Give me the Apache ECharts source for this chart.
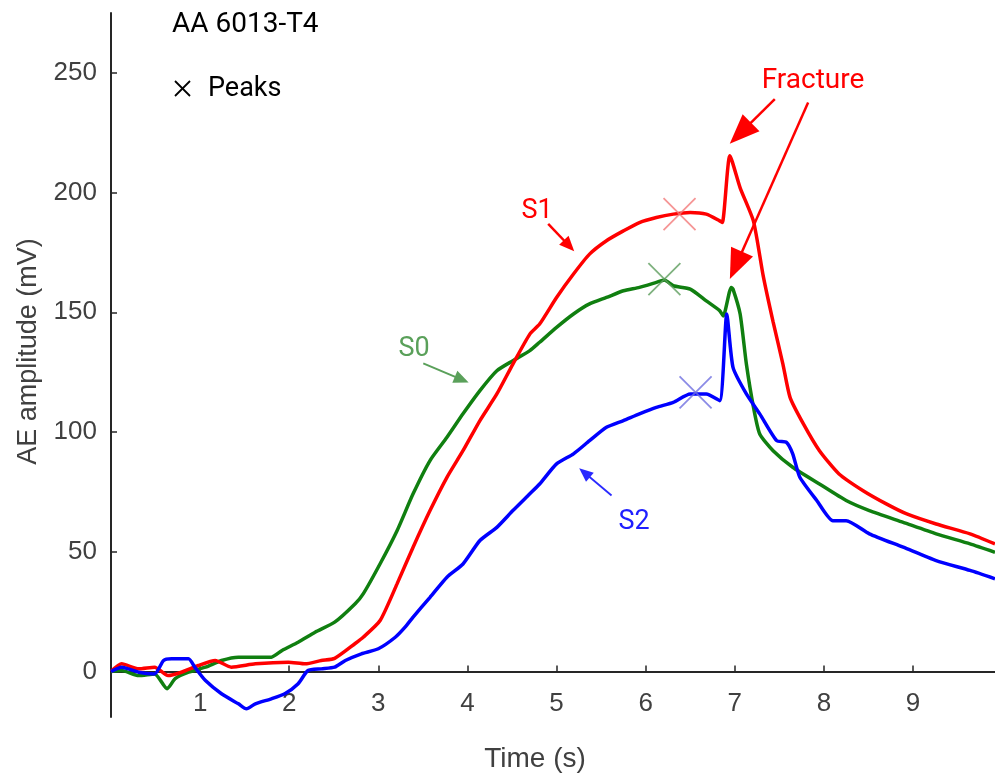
<!DOCTYPE html>
<html><head><meta charset="utf-8">
<script src="https://cdn.jsdelivr.net/npm/echarts@6/dist/echarts.min.js"></script>
<style>html,body{margin:0;padding:0;background:#fff}#c{width:995px;height:778px}</style>
</head><body><div id="c"></div>
<script>
// S1 (red)
const s1Time = [0,0.12,0.31,0.49,0.64,0.79,0.98,1.17,1.35,1.62,1.99,2.18,2.36,2.51,2.74,2.83,3.02,3.21,3.39,3.58,3.77,3.95,4.14,4.33,4.51,4.70,4.81,5.0,5.19,5.37,5.56,5.75,5.93,6.12,6.31,6.50,6.68,6.83,6.86,6.945,7.06,7.21,7.32,7.43,7.54,7.62,7.77,7.95,8.17,8.44,8.70,8.93,9.26,9.64,9.92];
const s1Vals = [0,3.2,1.1,1.8,-1.7,-0.3,2.5,4.6,1.8,3.2,3.9,3.2,4.6,5.5,11.7,14.3,21.3,36.6,51.9,67.2,81.1,92.2,104.8,115.9,128.4,140.9,145.1,156.2,166,174.3,179.9,184,187.5,189.6,191,191.7,191,188.2,187.5,215.4,202,188,165,146,128.4,114.5,103.4,92.2,82.5,75.5,70,65.8,61.6,57.5,53.3];
// S0 (green)
const s0Time = [0,0.12,0.31,0.49,0.63,0.72,0.87,1.06,1.24,1.43,1.62,1.80,1.92,2.10,2.29,2.51,2.74,2.83,3.02,3.21,3.39,3.58,3.77,3.95,4.14,4.33,4.51,4.70,4.81,5.0,5.19,5.37,5.56,5.75,5.93,6.12,6.21,6.31,6.50,6.68,6.83,6.87,6.96,6.98,7.06,7.13,7.21,7.28,7.43,7.65,7.95,8.25,8.51,8.89,9.26,9.64,9.92];
const s0Vals = [0,0.4,-1.7,-1,-7.2,-3,-0.3,1.8,4.6,6,6,6,8.8,12.2,16.4,20.6,28.3,32.4,45,58.8,74.2,88.1,97.8,107.6,117.3,125.6,129.8,134,137.5,143.7,149.3,153.5,156.2,159,160.4,162.5,163.5,161.1,159.7,154.8,150.7,148.5,160.4,159.7,149.3,128.4,110.3,99.2,92.2,85.3,78.3,71.4,67.2,62.3,57.5,53.3,49.8];
// S2 (blue)
const s2Time = [0,0.12,0.31,0.49,0.59,0.68,0.87,0.94,1.06,1.24,1.43,1.52,1.62,1.80,1.95,2.10,2.21,2.36,2.51,2.63,2.81,3.0,3.19,3.30,3.39,3.58,3.77,3.95,4.14,4.33,4.51,4.70,4.81,5.0,5.19,5.37,5.56,5.75,5.93,6.12,6.31,6.50,6.68,6.83,6.91,6.98,7.13,7.28,7.47,7.58,7.65,7.73,7.92,8.10,8.25,8.51,8.89,9.26,9.64,9.92];
const s2Vals = [0,1.8,-0.3,-1,4.6,5.3,5.3,1.8,-3.8,-9.3,-13.5,-15.6,-13.5,-11.4,-9.3,-5.1,0.4,1.1,1.8,4.6,7.4,9.5,14.3,18.5,22.7,31,39.4,44.9,54.7,60.2,67.2,74.2,78.3,86.7,90.9,96.4,102,104.8,107.6,110.3,112.4,115.9,115.9,113.1,149.3,127,115.9,107.6,96.4,95.7,90.9,81.1,71.4,63,63,57.5,51.9,46.3,42.2,38.7];
// Peaks
const peakTime = [6.38, 6.21, 6.56];
const peakVals = [191, 163.9, 116.6];
const peakColors = ['#f27a7a', '#5e9e5e', '#6e6ee0'];
// Ticks
const xTicks = [1,2,3,4,5,6,7,8,9];
const yTicks = [0,50,100,150,200,250];

const zip = (t, v) => t.map((x, i) => [x, v[i]]);
const RED = '#ff0000', GREEN = '#107f10', BLUE = '#0000ff';
const AXC = '#262626', LBC = '#404040';
const AXF = '"Liberation Sans", Arial, sans-serif';
const ANF = 'Roboto, "Noto Sans", sans-serif';
const Y_MIN = -19, Y_MAX = 275;
const GRID_TOP = 13, GRID_BOTTOM = 61, H = 778;
// place the x axis line at y = 0 (shift from the grid bottom)
const plotH = H - GRID_TOP - GRID_BOTTOM;
const zeroShift = -plotH * (0 - Y_MIN) / (Y_MAX - Y_MIN);

const chart = echarts.init(document.getElementById('c'), null, {renderer: 'canvas'});

function arrow(from, to, size) {
  return [{coord: from, symbol: 'none'}, {coord: to, symbol: 'triangle', symbolSize: size}];
}

const option = {
  animation: false,
  backgroundColor: '#fff',
  grid: {left: 111, right: 0, top: GRID_TOP, bottom: GRID_BOTTOM, containLabel: false, outerBoundsMode: 'none'},
  xAxis: {
    type: 'value', min: 0, max: 9.92, position: 'bottom', offset: zeroShift,
    axisLine: {show: true, onZero: false, lineStyle: {color: AXC, width: 2}},
    axisTick: {show: true, inside: true, length: 6, customValues: xTicks, lineStyle: {color: AXC, width: 1.5}},
    axisLabel: {customValues: xTicks, fontSize: 26, color: LBC, fontFamily: AXF, margin: 19},
    splitLine: {show: false},
    name: 'Time (s)', nameLocation: 'middle', nameGap: 74,
    nameTextStyle: {fontSize: 28, color: LBC, fontFamily: AXF, padding: [0, 36, 0, 0]}
  },
  yAxis: {
    type: 'value', min: Y_MIN, max: Y_MAX,
    axisLine: {show: true, onZero: false, lineStyle: {color: AXC, width: 2}},
    axisTick: {show: true, inside: true, length: 6, customValues: yTicks, lineStyle: {color: AXC, width: 1.5}},
    axisLabel: {customValues: yTicks, fontSize: 26, color: LBC, fontFamily: AXF, margin: 14},
    splitLine: {show: false},
    name: 'AE amplitude (mV)', nameLocation: 'middle', nameGap: 69, nameRotate: 90,
    nameTextStyle: {fontSize: 27, color: LBC, fontFamily: AXF, padding: [0, 0, 0, 27]}
  },
  series: [
    {
      name: 'S0', type: 'line', data: zip(s0Time, s0Vals), showSymbol: false, smooth: 0.2,
      lineStyle: {color: GREEN, width: 3.5}, itemStyle: {color: GREEN}, z: 2,
      markLine: {
        silent: true, animation: false, label: {show: false},
        lineStyle: {color: '#5aa05a', width: 2, type: 'solid'},
        data: [arrow([3.504, 128.7], [3.936, 121.9], [13, 15])]
      }
    },
    {
      name: 'S1', type: 'line', data: zip(s1Time, s1Vals), showSymbol: false, smooth: 0.2,
      lineStyle: {color: RED, width: 3.5}, itemStyle: {color: RED}, z: 3,
      markLine: {
        silent: true, animation: false, label: {show: false},
        lineStyle: {color: RED, width: 2.5, type: 'solid'},
        data: [
          arrow([4.906, 186.9], [5.14, 177.8], [13, 15]),
          arrow([7.449, 239], [7.063, 224.8], [24, 30]),
          arrow([7.823, 237.6], [7.013, 169.6], [24, 30])
        ]
      }
    },
    {
      name: 'S2', type: 'line', data: zip(s2Time, s2Vals), showSymbol: false, smooth: 0.2,
      lineStyle: {color: BLUE, width: 3.5}, itemStyle: {color: BLUE}, z: 4,
      markLine: {
        silent: true, animation: false, label: {show: false},
        lineStyle: {color: '#2a2aff', width: 1.8, type: 'solid'},
        data: [arrow([5.617, 73.5], [5.314, 83.0], [12, 14])]
      }
    },
    {
      name: 'Peaks', type: 'scatter', z: 5,
      symbol: 'path://M0,0L10,10M10,0L0,10', symbolSize: 32,
      data: peakTime.map((t, i) => ({value: [t, peakVals[i]], itemStyle: {color: 'none', borderColor: peakColors[i], borderWidth: 1.8}}))
    }
  ],
  graphic: [
    {type: 'text', left: 172, top: 11, style: {text: 'AA 6013-T4', fontSize: 28, fontFamily: ANF, fill: '#000'}},
    {type: 'line', shape: {x1: 175, y1: 81, x2: 190, y2: 96}, style: {stroke: '#000', lineWidth: 1.8}},
    {type: 'line', shape: {x1: 190, y1: 81, x2: 175, y2: 96}, style: {stroke: '#000', lineWidth: 1.8}},
    {type: 'text', left: 208, top: 76, style: {text: 'Peaks', fontSize: 27, fontFamily: ANF, fill: '#000'}},
    {type: 'text', x: 813, y: 81, style: {text: 'Fracture', fontSize: 28, fontFamily: ANF, fill: RED, align: 'center', verticalAlign: 'middle'}},
    {type: 'text', x: 537, y: 211, style: {text: 'S1', fontSize: 27, fontFamily: ANF, fill: RED, align: 'center', verticalAlign: 'middle'}},
    {type: 'text', x: 414, y: 349, style: {text: 'S0', fontSize: 27, fontFamily: ANF, fill: '#5aa05a', align: 'center', verticalAlign: 'middle'}},
    {type: 'text', x: 634, y: 522, style: {text: 'S2', fontSize: 27, fontFamily: ANF, fill: '#1f1fff', align: 'center', verticalAlign: 'middle'}}
  ]
};
chart.setOption(option);
</script></body></html>
